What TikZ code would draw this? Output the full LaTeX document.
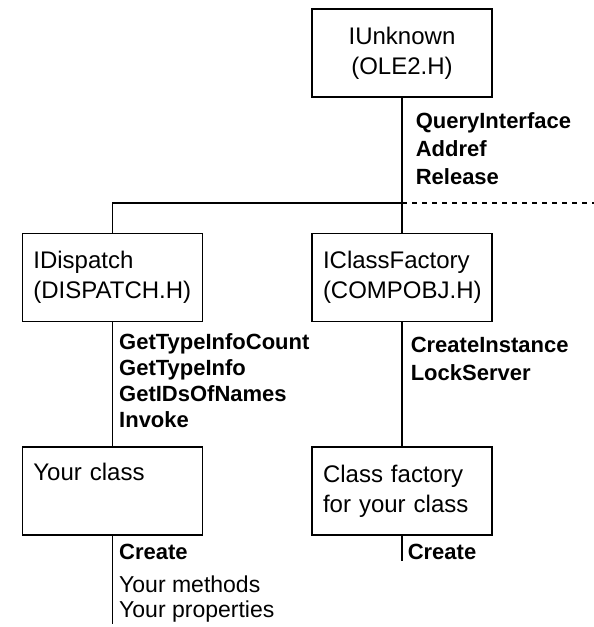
\documentclass[tikz,border=0pt]{standalone}
\usepackage{fontspec}
\setmainfont{Liberation Sans}
\usetikzlibrary{positioning}

\begin{document}
\begin{tikzpicture}[x=1pt, y=1pt, line width=1.6pt,
    box/.style={draw, rectangle, align=left, minimum width=180pt, minimum height=88pt, text width=158pt, inner xsep=11pt, font=\fontsize{24}{30}\selectfont},
    methods/.style={inner sep=0pt, align=left, font=\bfseries\fontsize{22}{28}\selectfont},
    plain/.style={inner sep=0pt, align=left, font=\fontsize{23}{25}\selectfont}]
    \useasboundingbox (0,0) rectangle (594,-627);
    \node[box, align=center] (unknown) at (402,-53) {IUnknown\\ (OLE2.H)};
    \node[box] (factory) [below=135pt of unknown] {IClassFactory\\ (COMPOBJ.H)};
    \node[box] (dispatch) [left=108pt of factory] {IDispatch\\ (DISPATCH.H)};
    \node[box] (classfac) [below=124pt of factory] {Class factory\\ for your class};
    \node[box] (yourclass) [below=124pt of dispatch] {Your class\\ \strut};

    \node[methods] (unkmeth) [below right=14pt and 13pt of unknown.south] {QueryInterface\\ Addref\\ Release};
    \node[methods, font=\bfseries\fontsize{22}{26}\selectfont] (dispmeth) [below right=10pt and 6pt of dispatch.south] {GetTypeInfoCount\\ GetTypeInfo\\ GetIDsOfNames\\ Invoke};
    \node[methods] (factmeth) [below right=14pt and 8pt of factory.south] {CreateInstance\\ LockServer};
    \node[methods] (classcreate) [below right=7pt and 6pt of yourclass.south] {Create};
    \node[plain] (members) [below=15pt of classcreate.south west, anchor=north west] {Your methods\\ Your properties};
    \node[methods] (faccreate) [below right=7pt and 5pt of classfac.south] {Create};

    \coordinate (junction) at ([yshift=-105pt]unknown.south);
    \coordinate (busend) at ([xshift=192pt]junction);
    \coordinate (classend) at ([yshift=-88pt]yourclass.south);
    \coordinate (facend) at ([yshift=-25pt]classfac.south);

    \draw (unknown) -- (factory);
    \draw (junction) -| (dispatch);
    \draw[dash pattern=on 5pt off 5pt] (junction) -- (busend);
    \draw (factory) -- (classfac);
    \draw (dispatch) -- (yourclass);
    \draw (yourclass) -- (classend);
    \draw (classfac) -- (facend);
\end{tikzpicture}
\end{document}
